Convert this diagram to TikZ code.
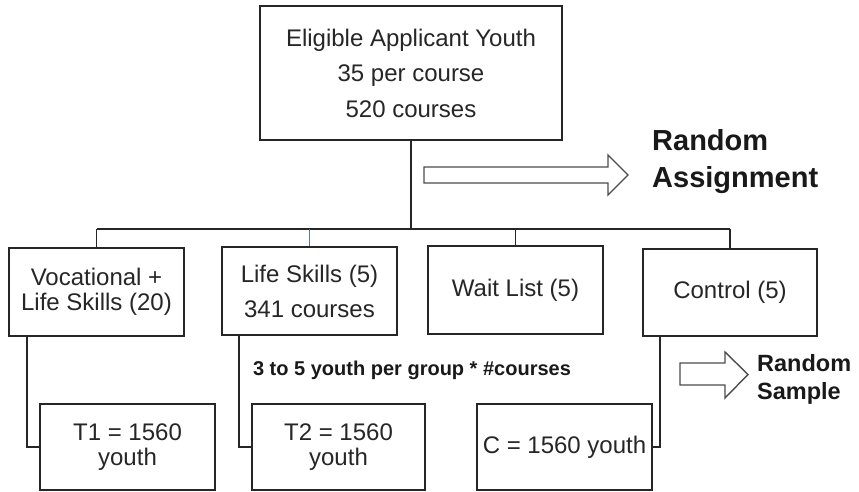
\documentclass[tikz,border=0pt]{standalone}
\usepackage{fontspec}
\setmainfont{Liberation Sans}
\begin{document}
\begin{tikzpicture}[x=1pt,y=-1pt,
  box/.style={draw=black!85,line width=1.9pt,fill=white,inner sep=0pt,align=center,
    text=black!85,font=\fontsize{24}{25}\selectfont},
  link/.style={draw=black!85,line width=1.9pt},
  blockarrow/.style={draw=black!70,line width=1.4pt,fill=white,line join=miter},
  label/.style={inner sep=0pt,text=black!90}]
\useasboundingbox (0,0) rectangle (859,492);

% top node
\node[box,minimum width=302pt,minimum height=134pt,
  font=\fontsize{24}{35.5}\selectfont] (top) at (411,73)
  {Eligible Applicant Youth\\35 per course\\520 courses};

% assignment groups
\node[box,minimum width=175pt,minimum height=88pt] (voc) at (96.5,292)
  {Vocational +\\Life Skills (20)};
\node[box,minimum width=175pt,minimum height=88pt,
  font=\fontsize{24}{35}\selectfont] (life) at (309.5,291)
  {Life Skills (5)\\341 courses};
\node[box,minimum width=175pt,minimum height=88pt] (wait) at (515.5,290)
  {Wait List (5)};
\node[box,minimum width=174pt,minimum height=87pt] (ctrl) at (730,292.5)
  {Control (5)};

% samples
\node[box,minimum width=175pt,minimum height=86pt] (t1) at (127.5,447)
  {T1 = 1560\\youth};
\node[box,minimum width=173pt,minimum height=86pt] (t2) at (338.5,447)
  {T2 = 1560\\youth};
\node[box,minimum width=175pt,minimum height=86pt] (c) at (564.5,447)
  {C = 1560 youth};

% tree connectors
\coordinate (busL) at (97,229);
\coordinate (busR) at (730,229);
\draw[link] (top.south) -- (top.south |- busL);
\draw[link] (busL) -- (busR);
\draw[link] (voc.north) -- (voc.north |- busL);
\draw[draw={rgb,255:red,80;green,120;blue,170},line width=1.9pt] (life.north) -- (life.north |- busL);
\draw[link] (wait.north) -- (wait.north |- busL);
\draw[link] (ctrl.north) -- (ctrl.north |- busL);

% sample connectors
\draw[link] ([xshift=-69.5pt]voc.south) |- (t1.west);
\draw[link] ([xshift=-70.5pt]life.south) |- (t2.west);
\draw[link] ([xshift=-70pt]ctrl.south) |- (c.east);

% random assignment
\draw[blockarrow] (424,167) -- (608,167) -- (608,155) -- (628,175) -- (608,195)
  -- (608,183) -- (424,183) -- cycle;
\node[label,anchor=west,align=left,font=\fontsize{29}{37}\selectfont\bfseries]
  (ra) at (652,161.5) {Random\\Assignment};

% random sample
\draw[blockarrow] (680,363) -- (725,363) -- (725,352) -- (748,374.5) -- (725,398)
  -- (725,385) -- (680,385) -- cycle;
\node[label,anchor=west,align=left,font=\fontsize{23.5}{28}\selectfont\bfseries]
  (rs) at (757,379) {Random\\Sample};

% group size note
\node[label,font=\fontsize{20}{22}\selectfont\bfseries] (note) at (412,370)
  {3 to 5 youth per group * \#courses};
\end{tikzpicture}
\end{document}
